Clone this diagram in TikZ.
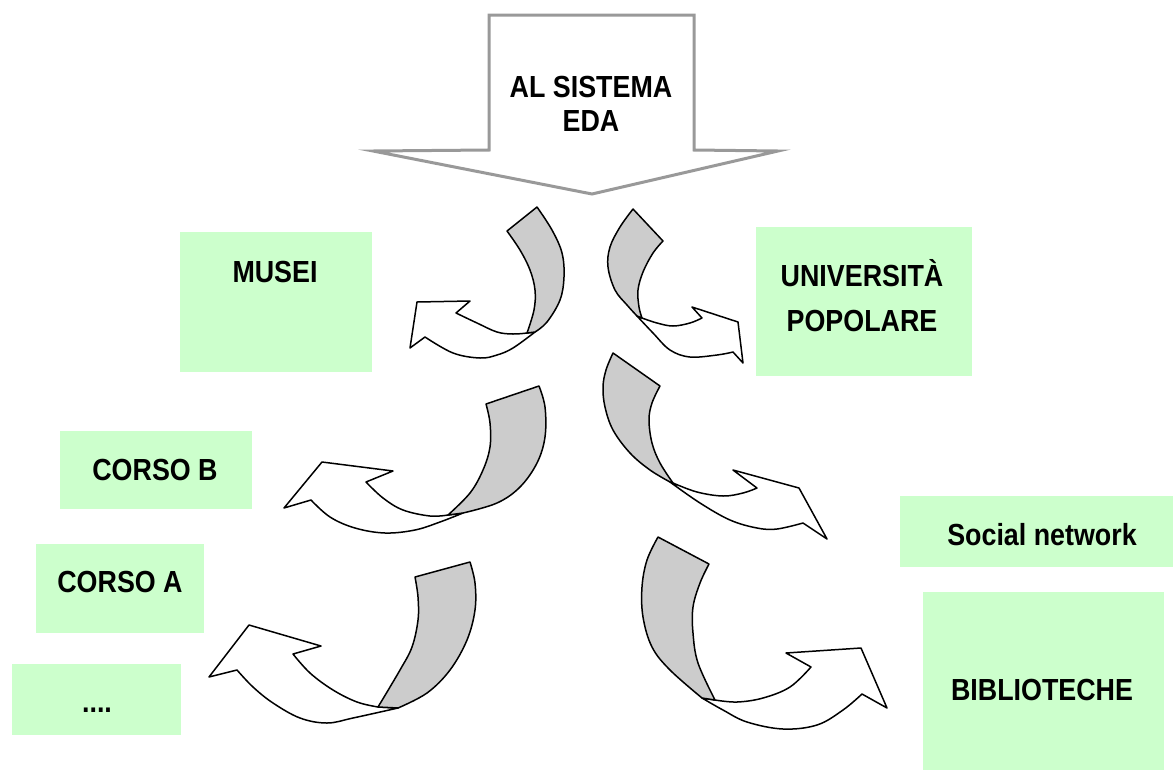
\documentclass[tikz,border=0pt]{standalone}
\usepackage{fontspec}
\setmainfont[FakeStretch=0.88]{Liberation Sans}
\definecolor{boxgreen}{HTML}{CCFFCC}
\definecolor{backgrey}{HTML}{CCCCCC}
\definecolor{arrowgrey}{HTML}{999999}
\tikzset{
  greenbox/.style={fill=boxgreen, draw=none, inner sep=0pt, outer sep=0pt},
  lbl/.style={inner sep=0pt, align=center, font=\fontsize{30.5}{34}\selectfont\bfseries},
  ribbon/.style={fill=white, draw=black, line width=1.5pt, line join=round},
  ribbonback/.style={fill=backgrey, draw=black, line width=1.5pt, line join=round},
  bigarrow/.style={fill=white, draw=arrowgrey, line width=3pt, line join=miter},
  sm/.style={smooth, tension=0.6}
}
\begin{document}
\begin{tikzpicture}[x=1pt,y=-1pt]
\useasboundingbox (0,0) rectangle (1175,780);

% green boxes
\node[greenbox, minimum width=192pt, minimum height=140pt] (musei)  at (276,302) {};
\node[greenbox, minimum width=216pt, minimum height=149pt] (univ)   at (864,301.5) {};
\node[greenbox, minimum width=192pt, minimum height=78pt]  (corsob) at (156,470) {};
\node[greenbox, minimum width=168pt, minimum height=89pt]  (corsoa) at (120,588.5) {};
\node[greenbox, minimum width=169pt, minimum height=71pt]  (altri)  at (96.5,699.5) {};
\node[greenbox, minimum width=273pt, minimum height=71pt]  (social) at (1036.5,531.5) {};
\node[greenbox, minimum width=241pt, minimum height=178pt] (biblio) at (1043.5,681) {};

% labels
\node[lbl] (tmusei)  at (275,272) {MUSEI};
\node[lbl, font=\fontsize{30.5}{45}\selectfont\bfseries] (tuniv) at (862,296) {UNIVERSITÀ\\POPOLARE};
\node[lbl] (tcorsob) at (155,470) {CORSO B};
\node[lbl] (tcorsoa) at (120,582) {CORSO A};
\node[lbl, anchor=base] (taltri) at (97,712) {....};
\node[lbl] (tsocial) at (1042,535) {Social network};
\node[lbl] (tbiblio) at (1042,690) {BIBLIOTECHE};

% big block arrow at the top
\filldraw[bigarrow] (489,15) -- (694,15) -- (694,150) -- (778,151) -- (592,194)
  -- (373,151) -- (489,150) -- cycle;
\node[lbl] (teda) at (591,104) {AL SISTEMA\\EDA};

% curved ribbon arrow towards MUSEI
\filldraw[ribbon] (527,333) -- plot[sm] coordinates {(527,333) (513,334) (497,332) (477,323) (456,313)}
  -- (470,301) -- (417,302) -- (410,348) -- (425,337)
  -- plot[sm] coordinates {(425,337) (453,353) (480,358) (497,355) (513,348) (535,332)} -- cycle;
\filldraw[ribbonback] (507,231) -- (537,207)
  -- plot[sm] coordinates {(537,207) (552,230) (562,253) (564,277) (560,300) (547,322) (535,332)}
  -- (527,333)
  -- plot[sm] coordinates {(527,333) (534,310) (535,290) (530,270) (520,250) (507,231)} -- cycle;

% curved ribbon arrow towards UNIVERSITA
\filldraw[ribbon] (642,318) -- plot[sm] coordinates {(642,318) (657,323) (673,326) (690,323) (702,318)}
  -- (692,307) -- (738,322) -- (743,363) -- (733,352)
  -- plot[sm] coordinates {(733,352) (717,355) (690,357) (670,350) (653,333) (637,316)} -- cycle;
\filldraw[ribbonback] (633,209) -- (663,241)
  -- plot[sm] coordinates {(663,241) (653,253) (643,272) (638,290) (639,307) (642,318)}
  -- (637,316)
  -- plot[sm] coordinates {(637,316) (627,305) (615,290) (608,267) (610,247) (620,227) (633,209)} -- cycle;

% curved ribbon arrow towards CORSO B
\filldraw[ribbon] (448,515) -- plot[sm] coordinates {(448,515) (430,516) (403,510) (383,498) (366,482)}
  -- (393,471) -- (322,462) -- (284,508) -- (311,500)
  -- plot[sm] coordinates {(311,500) (330,517) (355,528) (385,533) (415,530) (440,522) (463,513)} -- cycle;
\filldraw[ribbonback] (486,404) -- (539,386)
  -- plot[sm] coordinates {(539,386) (545,407) (545,437) (537,463) (520,487) (497,503) (463,513)}
  -- (448,515)
  -- plot[sm] coordinates {(448,515) (470,493) (483,470) (490,447) (490,423) (486,404)} -- cycle;

% curved ribbon arrow towards Social network
\filldraw[ribbon] (673,483) -- plot[sm] coordinates {(673,483) (697,492) (723,496) (743,493) (757,488)}
  -- (733,470) -- (799,488) -- (827,539) -- (803,523)
  -- plot[sm] coordinates {(803,523) (777,529) (757,528) (730,520) (700,503) (670,482)} -- cycle;
\filldraw[ribbonback] (613,353) -- (660,386)
  -- plot[sm] coordinates {(660,386) (652,403) (649,420) (652,443) (660,463) (673,483)}
  -- (670,482)
  -- plot[sm] coordinates {(670,482) (650,470) (630,453) (613,430) (605,407) (603,387) (606,370) (613,353)} -- cycle;

% curved ribbon arrow towards CORSO A
\filldraw[ribbon] (378,707) -- plot[sm] coordinates {(378,707) (357,702) (333,690) (310,673) (293,654)}
  -- (321,646) -- (249,625) -- (209,677) -- (237,670)
  -- plot[sm] coordinates {(237,670) (253,687) (273,703) (300,718) (327,723) (353,718) (398,708)} -- cycle;
\filldraw[ribbonback] (415,577) -- (470,562)
  -- plot[sm] coordinates {(470,562) (475,583) (475,610) (467,640) (450,670) (427,693) (398,708)}
  -- (378,707)
  -- plot[sm] coordinates {(378,707) (400,670) (412,647) (418,620) (418,597) (415,577)} -- cycle;

% curved ribbon arrow towards BIBLIOTECHE
\filldraw[ribbon] (715,700) -- plot[sm] coordinates {(715,700) (737,702) (763,698) (790,687) (811,667)}
  -- (786,653) -- (861,648) -- (887,708) -- (862,694)
  -- plot[sm] coordinates {(862,694) (843,710) (817,725) (783,729) (747,722) (723,710) (702,698)} -- cycle;
\filldraw[ribbonback] (658,537) -- (709,564)
  -- plot[sm] coordinates {(709,564) (700,583) (693,607) (693,633) (698,663) (715,700)}
  -- (702,698)
  -- plot[sm] coordinates {(702,698) (670,670) (652,647) (643,617) (642,587) (647,560) (658,537)} -- cycle;
\end{tikzpicture}
\end{document}
